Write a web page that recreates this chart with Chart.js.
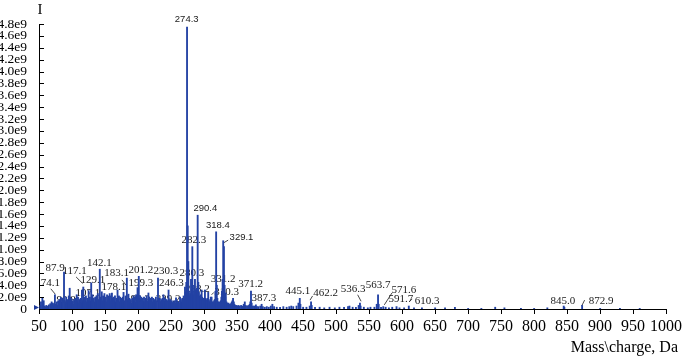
<!DOCTYPE html>
<html>
<head>
<meta charset="utf-8">
<script src="https://cdn.jsdelivr.net/npm/chart.js@4.4.1/dist/chart.umd.min.js"></script>
<style>
  html, body { margin: 0; padding: 0; background: #fff; }
  #wrap { width: 685px; height: 361px; }
</style>
</head>
<body>
<div id="wrap"><canvas id="spectrum"></canvas></div>
<script>
// m/z (Da) and intensity (x1e9)
const MZ_LOW = [
  52.1, 53.0, 55.1, 56.0, 57.1, 58.0, 60.0, 61.0, 63.0, 65.0,
  67.1, 68.0, 69.1, 70.1, 71.1, 72.0, 73.0, 74.1, 75.0, 77.0,
  78.0, 79.1, 80.0, 81.1, 82.0, 83.1, 84.0, 85.1, 86.1, 87.9,
  89.0, 90.8, 91.1, 92.0, 93.1, 94.0, 95.1, 96.5, 97.1, 98.0,
  99.1, 100.0, 101.1, 102.0, 103.1, 104.0, 105.1, 106.0, 107.1, 108.0,
  109.1, 110.0, 111.1, 112.0, 113.1, 114.0, 115.1, 116.0, 117.1, 118.0,
  119.1, 120.0, 121.1, 122.0, 123.1, 124.0, 125.2, 126.0, 127.1, 128.0,
  129.1, 130.0, 131.1, 133.0, 134.0, 135.1, 136.0, 137.1, 138.0, 139.1,
  140.0, 142.1, 143.0, 144.0, 145.1, 146.0, 147.1, 148.0, 149.1, 150.0,
  151.1, 152.0, 153.1, 154.0, 155.1, 156.0, 157.1, 158.0, 159.1, 160.5,
  161.1, 162.0, 163.1, 164.0, 165.1, 166.0, 167.1, 168.0, 169.0, 170.0,
  171.1, 172.0, 173.1, 174.0, 175.1, 176.0, 177.1, 178.1, 179.0, 180.0,
  181.1, 183.1, 184.0, 185.6, 186.0, 187.1, 188.0, 189.1, 190.0, 191.1,
  192.0, 193.2, 194.0, 195.1, 196.0, 197.1, 198.0, 199.3
];
const INT_LOW = [
  0.06, 0.12, 0.18, 0.10, 0.14, 0.05, 0.04, 0.06, 0.05, 0.07,
  0.09, 0.05, 0.12, 0.08, 0.10, 0.06, 0.08, 0.24, 0.08, 0.12,
  0.06, 0.14, 0.08, 0.16, 0.10, 0.20, 0.12, 0.18, 0.14, 0.62,
  0.15, 0.12, 0.20, 0.08, 0.16, 0.10, 0.22, 0.35, 0.20, 0.12,
  0.18, 0.12, 0.14, 0.08, 0.16, 0.12, 0.18, 0.10, 0.24, 0.14,
  0.20, 0.10, 0.16, 0.12, 0.18, 0.10, 0.32, 0.14, 0.37, 0.12,
  0.20, 0.10, 0.22, 0.12, 0.18, 0.10, 0.31, 0.12, 0.20, 0.14,
  0.44, 0.16, 0.24, 0.18, 0.12, 0.20, 0.14, 0.22, 0.12, 0.26,
  0.16, 0.67, 0.20, 0.14, 0.29, 0.14, 0.22, 0.12, 0.26, 0.14,
  0.20, 0.12, 0.24, 0.14, 0.22, 0.12, 0.26, 0.14, 0.22, 0.27,
  0.18, 0.12, 0.20, 0.14, 0.22, 0.12, 0.18, 0.14, 0.32, 0.14,
  0.22, 0.12, 0.20, 0.12, 0.18, 0.12, 0.20, 0.28, 0.14, 0.12,
  0.22, 0.52, 0.16, 0.25, 0.12, 0.18, 0.10, 0.16, 0.10, 0.18,
  0.10, 0.22, 0.12, 0.20, 0.12, 0.24, 0.14, 0.36
];

const MZ_MID = [
  200.0, 201.2, 202.0, 203.1, 204.0, 205.1, 206.0, 207.1, 208.0, 209.1,
  210.0, 211.1, 212.0, 213.1, 214.0, 215.8, 217.1, 218.0, 219.1, 220.0,
  221.1, 222.0, 223.1, 224.0, 225.1, 226.0, 227.1, 228.0, 230.3, 231.0,
  232.0, 233.1, 234.0, 235.1, 236.0, 237.1, 238.5, 239.2, 240.0, 241.1,
  242.0, 243.1, 244.0, 246.3, 247.0, 248.0, 249.1, 250.0, 251.1, 252.0,
  253.1, 254.0, 255.1, 256.0, 257.6, 259.1, 260.0, 261.1, 262.0, 263.7,
  265.1, 266.0, 267.1, 268.0, 269.1, 270.0, 271.2, 272.1, 273.2, 274.3,
  275.3, 276.3, 277.2, 278.2, 279.1, 280.3, 281.2, 282.3, 283.3, 284.2,
  285.1, 286.3, 287.2, 288.2, 289.3, 290.4, 291.4, 292.3, 293.2, 294.1,
  295.2, 296.4, 297.3, 298.2, 299.2, 300.2, 301.4, 302.3, 303.2, 304.2,
  305.3, 306.4, 307.3, 308.2, 309.3, 310.3, 311.5, 312.2, 313.3, 314.2,
  315.3, 316.3, 317.3, 318.4, 319.4, 320.3, 321.3, 322.2, 323.3, 324.2,
  325.3, 326.3, 327.2, 328.2, 329.1, 330.2, 331.2, 332.2, 333.0, 334.1,
  335.2, 336.2, 337.2, 338.2, 339.2, 340.2, 341.2, 342.2, 343.2, 344.0,
  345.2, 346.2, 347.2, 348.2, 349.2
];
const INT_MID = [
  0.14, 0.55, 0.16, 0.22, 0.12, 0.20, 0.12, 0.18, 0.12, 0.20,
  0.12, 0.18, 0.12, 0.22, 0.14, 0.27, 0.20, 0.12, 0.18, 0.12,
  0.20, 0.12, 0.18, 0.12, 0.16, 0.12, 0.20, 0.14, 0.52, 0.18,
  0.14, 0.18, 0.12, 0.16, 0.12, 0.18, 0.24, 0.20, 0.12, 0.18,
  0.12, 0.16, 0.14, 0.32, 0.16, 0.12, 0.16, 0.10, 0.14, 0.10,
  0.12, 0.10, 0.14, 0.10, 0.19, 0.14, 0.10, 0.12, 0.10, 0.20,
  0.16, 0.12, 0.18, 0.14, 0.22, 0.16, 0.37, 0.28, 0.45, 4.75,
  1.40, 0.80, 0.30, 0.22, 0.26, 0.50, 0.30, 1.05, 0.40, 0.24,
  0.30, 0.50, 0.32, 0.30, 0.35, 1.58, 0.45, 0.28, 0.22, 0.20,
  0.24, 0.32, 0.20, 0.16, 0.18, 0.16, 0.32, 0.18, 0.16, 0.14,
  0.18, 0.28, 0.16, 0.12, 0.14, 0.20, 0.20, 0.12, 0.10, 0.12,
  0.14, 0.16, 0.30, 1.30, 0.40, 0.18, 0.12, 0.10, 0.12, 0.10,
  0.14, 0.20, 0.30, 0.50, 1.15, 1.05, 0.40, 0.20, 0.27, 0.12,
  0.10, 0.08, 0.10, 0.08, 0.06, 0.08, 0.10, 0.12, 0.14, 0.18,
  0.12, 0.08, 0.06, 0.05, 0.06
];

const MZ_HIGH = [
  350.2, 352.2, 354.2, 356.2, 358.2, 360.2, 361.8, 363.2, 365.2, 367.2,
  369.2, 370.2, 371.2, 372.2, 374.2, 376.2, 378.6, 380.2, 382.2, 385.2,
  387.3, 389.2, 392.2, 395.2, 398.2, 401.2, 403.6, 406.2, 410.2, 415.2,
  420.2, 425.2, 429.2, 432.2, 435.2, 440.2, 443.1, 445.1, 446.1, 450.2,
  455.2, 460.2, 462.2, 463.2, 468.2, 475.2, 482.2, 490.2, 498.2, 505.2,
  512.2, 518.2, 520.4, 525.2, 530.2, 534.3, 536.3, 537.3, 542.2, 548.2,
  552.2, 558.2, 561.7, 563.7, 564.7, 568.2, 571.6, 575.2, 580.2, 585.2,
  591.7, 596.2, 603.2, 610.3, 618.2, 630.2, 650.2, 665.2, 680.2, 700.2,
  720.2, 741.2, 755.2, 780.2, 800.2, 820.2, 845.0, 846.0, 872.9, 900.2,
  930.2, 960.2
];
const INT_HIGH = [
  0.05, 0.06, 0.05, 0.06, 0.05, 0.08, 0.12, 0.06, 0.05, 0.06,
  0.08, 0.12, 0.30, 0.10, 0.05, 0.05, 0.07, 0.04, 0.04, 0.05,
  0.08, 0.04, 0.03, 0.04, 0.03, 0.05, 0.08, 0.04, 0.03, 0.03,
  0.04, 0.03, 0.04, 0.05, 0.04, 0.05, 0.10, 0.18, 0.08, 0.03,
  0.03, 0.05, 0.12, 0.06, 0.03, 0.03, 0.02, 0.03, 0.02, 0.03,
  0.03, 0.04, 0.05, 0.03, 0.03, 0.06, 0.10, 0.05, 0.03, 0.02,
  0.03, 0.03, 0.08, 0.24, 0.08, 0.03, 0.04, 0.03, 0.02, 0.03,
  0.04, 0.02, 0.02, 0.05, 0.02, 0.02, 0.02, 0.02, 0.03, 0.01,
  0.01, 0.03, 0.02, 0.01, 0.01, 0.02, 0.05, 0.03, 0.06, 0.01,
  0.01, 0.01
];

const X_TICKS = [50, 100, 150, 200, 250, 300, 350, 400, 450, 500,
  550, 600, 650, 700, 750, 800, 850, 900, 950, 1000];
const Y_TICKS = [0, 0.2, 0.4, 0.6, 0.8, 1.0, 1.2, 1.4, 1.6, 1.8, 2.0, 2.2,
  2.4, 2.6, 2.8, 3.0, 3.2, 3.4, 3.6, 3.8, 4.0, 4.2, 4.4, 4.6, 4.8];
// tick texts exactly as printed on the original
const Y_TICK_LABELS = ['0', '2.0e9', '4.0e9', '6.0e9', '8.0e9', '1.0e9', '1.2e9',
  '1.4e9', '1.6e9', '1.8e9', '2.0e9', '2.2e9', '2.4e9', '2.6e9', '2.8e9', '3.0e9',
  '3.2e9', '3.4e9', '3.6e9', '3.8e9', '4.0e9', '4.2e9', '4.4e9', '4.6e9', '4.8e9'];

// peak annotations, anchored in data units (m/z, intensity)
const LABEL_TEXT = ['274.3', '290.4', '282.3', '318.4', '329.1', '87.9', '74.1', '117.1',
  '129.1', '142.1', '183.1', '178.1', '107.1', '90.8', '193.2', '201.2', '199.3', '230.3',
  '246.3', '239.2', '280.3', '288.2', '331.2', '310.3', '371.2', '387.3', '445.1', '462.2',
  '536.3', '563.7', '571.6', '591.7', '610.3', '845.0', '872.9'];
const LABEL_MZ = [273.8, 302.1, 284.8, 321.0, 356.8, 74.5, 67.4, 103.9,
  131.5, 141.3, 167.5, 163.5, 124.0, 91.2, 199.5, 204.5, 204.5, 242.1,
  250.5, 245.5, 281.8, 290.1, 329.0, 334.2, 370.5, 390.9, 442.3, 484.4,
  526.1, 563.7, 602.9, 598.4, 638.1, 843.7, 901.6];
const LABEL_INT = [4.87, 1.70, 1.16, 1.41, 1.21, 0.69, 0.43, 0.63,
  0.48, 0.78, 0.60, 0.37, 0.27, 0.15, 0.16, 0.65, 0.43, 0.63,
  0.43, 0.16, 0.60, 0.33, 0.50, 0.28, 0.42, 0.18, 0.30, 0.27,
  0.34, 0.40, 0.32, 0.16, 0.14, 0.14, 0.14];
// leader ticks from a label to its peak: [mz1, int1, mz2, int2]
const LEADERS = [
  [67.9, 0.34, 74.6, 0.25],
  [106.2, 0.54, 116.2, 0.43],
  [175.6, 0.49, 182.1, 0.40],
  [311.5, 0.24, 315.0, 0.28],
  [329.1, 1.11, 336.6, 1.16],
  [460.7, 0.15, 464.5, 0.22],
  [532.8, 0.24, 538.0, 0.13],
  [573.2, 0.07, 584.8, 0.27],
  [610.9, 0.12, 615.4, 0.17],
  [872.2, 0.05, 876.7, 0.15],
];

const SERIF = '"Liberation Serif", "Times New Roman", serif';
const SANS_LABELS = ['274.3', '290.4', '318.4', '329.1'];

const toPoints = (mz, vals) => mz.map((m, i) => ({ x: m, y: vals[i] }));
const peaks = [
  ...toPoints(MZ_LOW, INT_LOW),
  ...toPoints(MZ_MID, INT_MID),
  ...toPoints(MZ_HIGH, INT_HIGH),
];

const annotate = {
  id: 'annotate',
  // labels go under the spectrum, like in the original
  beforeDatasetsDraw(chart) {
    const { ctx, scales: { x, y } } = chart;
    ctx.save();
    ctx.fillStyle = '#1a1a1a';
    ctx.textAlign = 'center';
    ctx.textBaseline = 'middle';
    LABEL_TEXT.forEach((txt, i) => {
      ctx.font = SANS_LABELS.includes(txt) ? '9.5px "Liberation Sans", sans-serif' : '11px ' + SERIF;
      ctx.fillText(txt, x.getPixelForValue(LABEL_MZ[i]), y.getPixelForValue(LABEL_INT[i]));
    });
    ctx.strokeStyle = '#1a1a1a';
    ctx.lineWidth = 0.8;
    LEADERS.forEach(([m1, i1, m2, i2]) => {
      ctx.beginPath();
      ctx.moveTo(x.getPixelForValue(m1), y.getPixelForValue(i1));
      ctx.lineTo(x.getPixelForValue(m2), y.getPixelForValue(i2));
      ctx.stroke();
    });
    ctx.restore();
  },
  afterDraw(chart) {
    const { ctx, scales: { x, y } } = chart;
    ctx.save();
    // y ticks point inward
    ctx.strokeStyle = '#000';
    ctx.lineWidth = 1;
    Y_TICKS.forEach(v => {
      const py = Math.round(y.getPixelForValue(v)) + 0.5;
      ctx.beginPath();
      ctx.moveTo(x.left, py);
      ctx.lineTo(x.left + 5, py);
      ctx.stroke();
    });
    // small marker next to the zero label
    const p0 = y.getPixelForValue(0);
    ctx.fillStyle = '#1d3a9a';
    ctx.beginPath();
    ctx.moveTo(x.left - 5, p0 - 4);
    ctx.lineTo(x.left, p0 - 1.5);
    ctx.lineTo(x.left - 5, p0 + 1);
    ctx.closePath();
    ctx.fill();
    // axis titles
    ctx.fillStyle = '#000';
    ctx.font = '15px ' + SERIF;
    ctx.textAlign = 'center';
    ctx.textBaseline = 'middle';
    ctx.fillText('I', x.left + 1, 10);
    ctx.font = '16px ' + SERIF;
    ctx.textAlign = 'right';
    ctx.fillText('Mass\\charge, Da', x.right + 12, 348);
    ctx.restore();
  },
};

new Chart(document.getElementById('spectrum'), {
  type: 'bar',
  data: {
    datasets: [{
      data: peaks,
      backgroundColor: '#2342a4',
      borderWidth: 0,
      barThickness: 1.2,
    }],
  },
  options: {
    animation: false,
    responsive: true,
    maintainAspectRatio: false,
    layout: { padding: { top: 24, right: 17, left: 0, bottom: 0 } },
    plugins: { legend: { display: false }, tooltip: { enabled: false } },
    scales: {
      x: {
        type: 'linear',
        min: 50,
        max: 1000,
        offset: false,
        afterBuildTicks: s => { s.ticks = X_TICKS.map(v => ({ value: v })); },
        afterFit: s => { s.height = 52; },
        grid: { display: true, offset: false, drawOnChartArea: false, drawTicks: true, tickLength: 5, color: '#000' },
        border: { display: true, color: '#000', width: 1 },
        ticks: {
          font: { family: SERIF, size: 16 },
          color: '#000',
          padding: 3,
          maxRotation: 0,
          autoSkip: false,
          callback: v => String(v),
        },
      },
      y: {
        min: 0,
        max: 4.8,
        afterBuildTicks: s => { s.ticks = Y_TICKS.map(v => ({ value: v })); },
        afterFit: s => { s.width = 39; },
        grid: { display: false },
        border: { display: true, color: '#000', width: 1 },
        ticks: {
          font: { family: SERIF, size: 13.5 },
          color: '#000',
          padding: 4,
          autoSkip: false,
          callback: (v, i) => Y_TICK_LABELS[i],
        },
      },
    },
  },
  plugins: [annotate],
});
</script>
</body>
</html>
